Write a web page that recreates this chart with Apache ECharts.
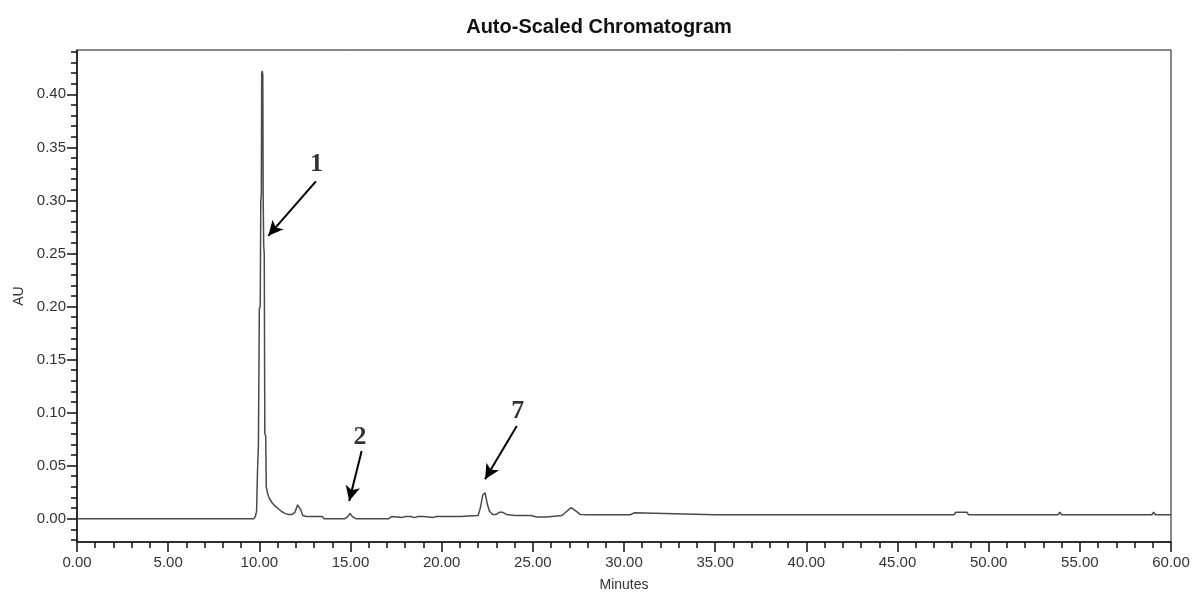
<!DOCTYPE html>
<html>
<head>
<meta charset="utf-8">
<script src="https://cdn.jsdelivr.net/npm/echarts@6/dist/echarts.min.js"></script>
<style>
  html, body { margin: 0; padding: 0; background: #fff; }
  #main { width: 1195px; height: 597px; }
</style>
</head>
<body>
<div id="main"></div>
<script>
// 色谱图数据 (分钟, AU)
let minutes = [
  0, 9.70, 9.78, 9.85, 9.90, 9.95, 10.00, 10.05, 10.08, 10.11, 10.13, 10.16, 10.19, 10.21, 10.24, 10.27,
  10.30, 10.35, 10.38, 10.45, 10.55, 10.70, 10.85, 11.00, 11.20, 11.40, 11.60, 11.80, 11.95, 12.10,
  12.18, 12.28, 12.38, 12.60, 13.00, 13.45, 13.55, 14.70, 14.85, 14.97, 15.10, 15.30, 17.10, 17.25,
  17.60, 17.80, 18.00, 18.30, 18.50, 18.70, 19.00, 19.30, 19.50, 19.70, 20.00, 21.00, 22.00, 22.12,
  22.25, 22.38, 22.50, 22.62, 22.80, 23.00, 23.15, 23.35, 23.55, 24.00, 24.90, 24.95, 25.20, 25.30,
  25.50, 25.75, 25.85, 26.60, 26.80, 27.10, 27.30, 27.60, 28.00
];
let au = [
  0, 0, 0.002, 0.007, 0.045, 0.070, 0.198, 0.200, 0.300, 0.305, 0.420, 0.422, 0.418, 0.304, 0.257, 0.250,
  0.080, 0.078, 0.030, 0.024, 0.019, 0.015, 0.012, 0.010, 0.007, 0.005, 0.004, 0.004, 0.006, 0.013,
  0.014, 0.008, 0.003, 0.002, 0.002, 0.002, 0.000, 0.000, 0.002, 0.005, 0.002, 0.000, 0.000, 0.002,
  0.0015, 0.001, 0.002, 0.002, 0.001, 0.002, 0.002, 0.0015, 0.001, 0.002, 0.002, 0.002, 0.003, 0.010,
  0.022, 0.0245, 0.014, 0.007, 0.004, 0.004, 0.006, 0.006, 0.004, 0.003, 0.003, 0.0015, 0.0015, 0.003,
  0.0015, 0.0015, 0.003, 0.003, 0.006, 0.0104, 0.008, 0.004, 0.0037
];
// 28 分钟之后的基线与小峰
let lateMinutes = [30.35, 30.45, 30.55, 30.65, 35.00, 40.00, 44.85, 44.90, 44.95, 48.10, 48.20, 48.80, 48.90,
  53.80, 53.90, 54.00, 58.95, 59.05, 59.15, 60.00];
let lateAu = [0.0037, 0.0055, 0.0055, 0.0037, 0.0037, 0.0037, 0.0037, 0.005, 0.0037, 0.0037, 0.006, 0.006, 0.0037,
  0.0037, 0.006, 0.0037, 0.0037, 0.006, 0.0037, 0.0037];

// 坐标轴刻度
let yLabelTicks = [0, 0.05, 0.10, 0.15, 0.20, 0.25, 0.30, 0.35, 0.40];
let yMinorTicks = [];
for (let i = -2; i <= 44; i++) yMinorTicks.push(+(i / 100).toFixed(2));

// 峰标注
let peakTags = ['1', '2', '7'];
let tagAt = [[13.14, 0.334], [15.52, 0.0767], [24.17, 0.1015]];
let arrowFrom = [[13.10, 0.318], [15.61, 0.0638], [24.12, 0.0874]];
let arrowTo = [[10.49, 0.2666], [14.93, 0.0166], [22.38, 0.0371]];

let trace = minutes.map((m, i) => [m, au[i]])
  .concat(lateMinutes.map((m, i) => [m, lateAu[i]]));
let tagData = tagAt.map((p, i) => [p[0], p[1], peakTags[i]]);
let arrowData = arrowFrom.map((p, i) => [{ coord: p }, { coord: arrowTo[i] }]);

let myChart = echarts.init(document.getElementById('main'));
let font = 'Liberation Sans, Arial, sans-serif';

let option = {
  animation: false,
  title: {
    text: 'Auto-Scaled Chromatogram',
    left: 594,
    textAlign: 'center',
    top: 12,
    textStyle: { fontFamily: font, fontSize: 20, fontWeight: 'bold', color: '#111' }
  },
  grid: {
    left: 77, right: 24, top: 50, bottom: 54,
    show: true, borderColor: '#111', borderWidth: 1
  },
  xAxis: {
    type: 'value',
    min: 0, max: 60, interval: 5,
    name: 'Minutes',
    nameLocation: 'middle',
    nameGap: 36,
    nameTextStyle: { fontFamily: font, fontSize: 14, color: '#333' },
    axisLine: { onZero: false, lineStyle: { color: '#111', width: 1.5 } },
    axisTick: { length: 10, lineStyle: { color: '#111', width: 1.5 } },
    minorTick: { show: true, splitNumber: 5, length: 6, lineStyle: { color: '#111', width: 1.5 } },
    axisLabel: {
      margin: 13, fontFamily: font, fontSize: 15, color: '#333',
      formatter: v => v.toFixed(2)
    },
    splitLine: { show: false }
  },
  yAxis: [{
    type: 'value',
    min: -0.022, max: 0.4418,
    name: 'AU',
    nameLocation: 'middle',
    nameGap: 49,
    nameTextStyle: { fontFamily: font, fontSize: 14, color: '#333' },
    axisLine: { show: true, onZero: false, lineStyle: { color: '#111', width: 1.5 } },
    axisTick: { show: true, length: 10, customValues: yLabelTicks, lineStyle: { color: '#111', width: 1.5 } },
    axisLabel: {
      margin: 11, fontFamily: font, fontSize: 15, color: '#333',
      customValues: yLabelTicks,
      formatter: v => v.toFixed(2)
    },
    splitLine: { show: false }
  }, {
    type: 'value',
    position: 'left',
    min: -0.022, max: 0.4418,
    axisLine: { show: false },
    axisTick: { show: true, length: 6, customValues: yMinorTicks, lineStyle: { color: '#111', width: 1.5 } },
    axisLabel: { show: false },
    splitLine: { show: false }
  }],
  series: [{
    type: 'line',
    data: trace,
    showSymbol: false,
    symbol: 'none',
    lineStyle: { color: '#4a4a4a', width: 1.5 },
    markLine: {
      silent: true,
      symbol: ['none', 'arrow'],
      symbolSize: [11, 15],
      label: { show: false },
      lineStyle: { color: '#000', width: 2, type: 'solid' },
      data: arrowData
    }
  }, {
    type: 'scatter',
    data: tagData,
    symbolSize: 0,
    silent: true,
    label: {
      show: true,
      position: 'inside',
      formatter: p => p.value[2],
      fontFamily: 'Liberation Serif, Times New Roman, serif',
      fontWeight: 'bold',
      fontSize: 26,
      color: '#000'
    }
  }]
};

myChart.setOption(option);
</script>
</body>
</html>
